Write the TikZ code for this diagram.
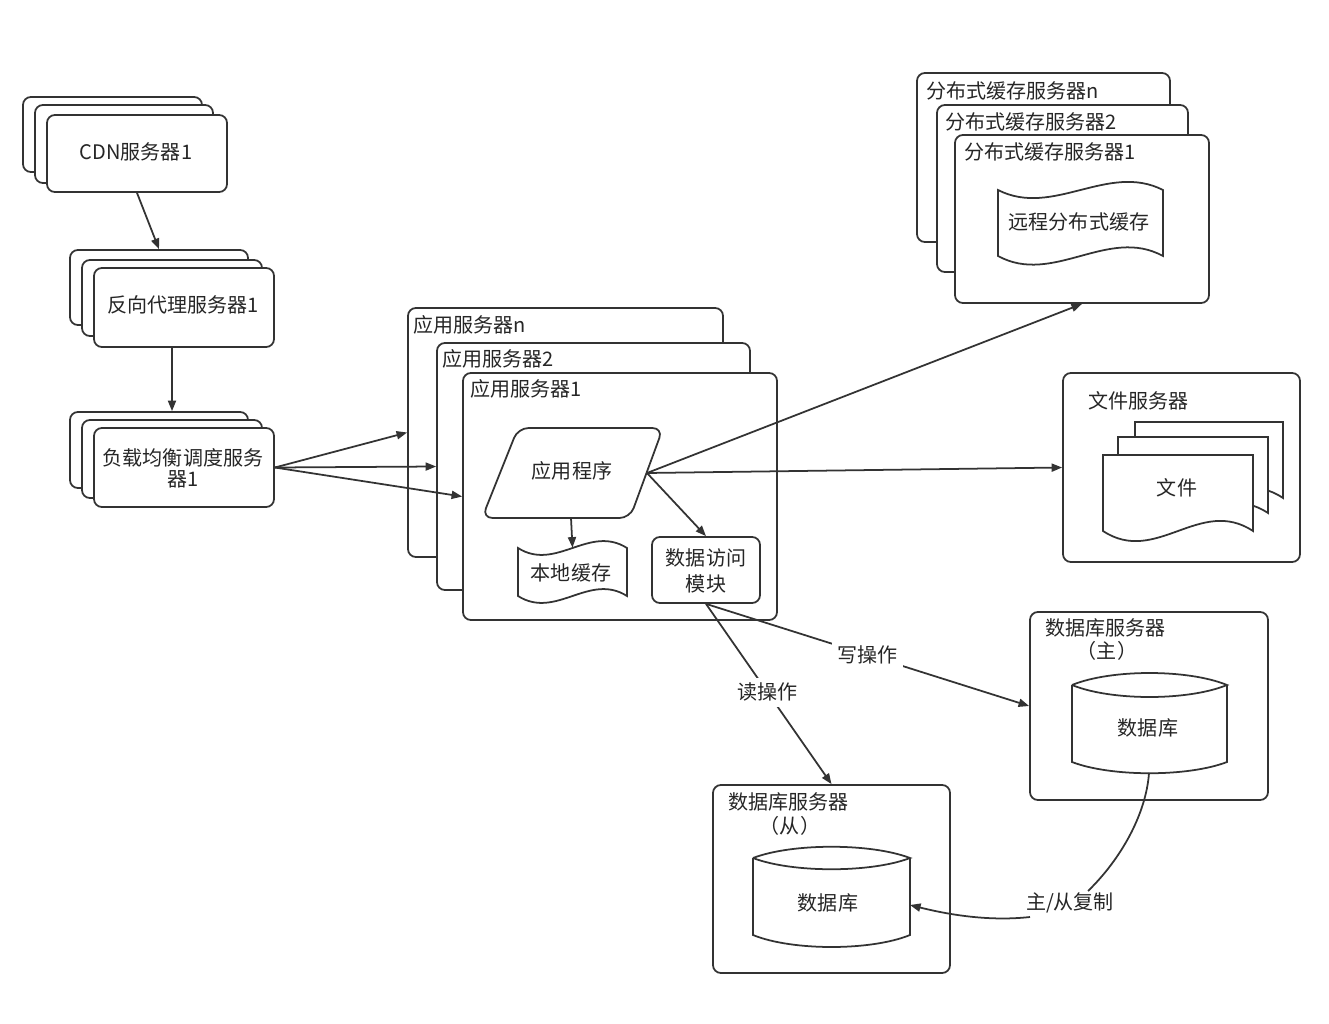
\documentclass[tikz,border=0pt]{standalone}
\usepackage{fontspec}
\setmainfont{Noto Sans CJK SC}
\usetikzlibrary{arrows.meta,fit}
\begin{document}
\begin{tikzpicture}[x=0.02cm,y=-0.02cm,
  every node/.style={font=\fontsize{11.4}{13}\selectfont, text=black!85, inner sep=0pt},
  ln/.style={line width=1pt, draw=black!80},
  card/.style={ln, rounded corners=4.5pt, fill=white},
  arr/.style={ln, -{Triangle[length=6pt,width=4.6pt]}},
  lbl/.style={fill=white, inner sep=3pt}
]
\fill[white] (0,0) rectangle (1329,1024);
\useasboundingbox (0,0) rectangle (1329,1024);

% ---------- CDN ----------
\node[card, fit={(23,97) (202,172)}] (cdn3) {};
\node[card, fit={(35,105) (213,183)}] (cdn2) {};
\node[card, fit={(47,115) (227,192)}] (cdn) {};
\node (cdnt) at (136,152) {CDN服务器1};

% ---------- reverse proxy ----------
\node[card, fit={(70,250) (248,325)}] (proxy3) {};
\node[card, fit={(82,260) (262,336)}] (proxy2) {};
\node[card, fit={(94,268) (274,347)}] (proxy) {};
\node (proxyt) at (183,305) {反向代理服务器1};

% ---------- load balancer ----------
\node[card, fit={(70,412) (248,488)}] (lb3) {};
\node[card, fit={(82,420) (262,498)}] (lb2) {};
\node[card, fit={(94,428) (274,507)}] (lb) {};
\node[align=center, font=\fontsize{11.4}{12}\selectfont] (lbt) at (183,468) {负载均衡调度服务\\器1};

\draw[arr] (cdn.south) -- (proxy3.north);
\draw[arr] ([xshift=-0.24cm]proxy.south) -- ([xshift=-0.24cm]proxy.south |- lb3.north);

% ---------- application servers ----------
\node[card, fit={(408,308) (723,557)}] (appn) {};
\node[anchor=west] (appnl) at (413,325) {应用服务器n};
\node[card, fit={(437,343) (750,590)}] (app2) {};
\node[anchor=west] (app2l) at (442,359) {应用服务器2};
\node[card, fit={(463,373) (777,620)}] (app1) {};
\node[anchor=west] (app1l) at (470,389) {应用服务器1};

\draw[arr] (lb.east) -- (appn.west);
\draw[arr] (lb.east) -- (app2.west);
\draw[arr] (lb.east) -- (app1.west);

% application program (parallelogram)
\draw[ln, rounded corners=6pt, fill=white] (518,428) -- (663,428) -- (630,518) -- (482,518) -- cycle;
\node (prog) at (572,471) {应用程序};
\coordinate (progB) at (571,518);
\coordinate (progR) at (647,473);

% local cache (tape)
\draw[ln, fill=white] (518,548) .. controls (556,572) and (589,524) .. (627,548) -- (627,596) .. controls (589,572) and (556,620) .. (518,596) -- cycle;
\node[fit={(518,548) (627,596)}] (lcache) {};
\node (lcachet) at (571,573) {本地缓存};

% data access module
\node[card, fit={(652,537) (760,603)}] (dam) {};
\node[align=center, font=\fontsize{11.4}{15}\selectfont] (damt) at (706,571) {数据访问\\模块};

\draw[arr] (progB) -- (lcache.north);
\draw[arr] (progR) -- (dam.north);

% ---------- distributed cache ----------
\node[card, fit={(917,73) (1170,242)}] (dcn) {};
\node[anchor=west] (dcnl) at (926,91) {分布式缓存服务器n};
\node[card, fit={(937,105) (1188,272)}] (dc2) {};
\node[anchor=west] (dc2l) at (945,122) {分布式缓存服务器2};
\node[card, fit={(955,135) (1209,303)}] (dc1) {};
\node[anchor=west] (dc1l) at (964,152) {分布式缓存服务器1};
\draw[ln, fill=white] (998,190) .. controls (1053,218) and (1108,162) .. (1163,190) -- (1163,256) .. controls (1108,226) and (1053,286) .. (998,256) -- cycle;
\node (rcache) at (1079,222) {远程分布式缓存};

% ---------- file server ----------
\node[card, fit={(1063,373) (1300,562)}] (fs) {};
\node[anchor=west] (fsl) at (1088,401) {文件服务器};
\draw[ln, fill=white] (1135,422) -- (1283,422) -- (1283,498) .. controls (1231,463) and (1187,533) .. (1135,498) -- cycle;
\draw[ln, fill=white] (1118,437) -- (1268,437) -- (1268,513) .. controls (1215,478) and (1170,548) .. (1118,513) -- cycle;
\draw[ln, fill=white] (1103,455) -- (1253,455) -- (1253,531) .. controls (1200,496) and (1156,566) .. (1103,531) -- cycle;
\node (file) at (1177,488) {文件};

\draw[arr] (progR) -- (dc1.south);
\draw[arr] (progR) -- (fs.west);

% ---------- database master ----------
\node[card, fit={(1030,612) (1268,800)}] (mdbs) {};
\node[anchor=west] (mdbl) at (1045,628) {数据库服务器};
\node (mdbl2) at (1107,651) {（主）};
\draw[ln] (1072,685) -- (1072,762) .. controls (1111,777) and (1188,777) .. (1227,762) -- (1227,685);
\draw[ln] (1072,685) .. controls (1111,669) and (1188,669) .. (1227,685) .. controls (1188,701) and (1111,701) .. (1072,685);
\node (mdb) at (1148,728) {数据库};
\coordinate (mdbB) at (1149,773);

% ---------- database slave ----------
\node[card, fit={(713,785) (950,973)}] (sdbs) {};
\node[anchor=west] (sdbl) at (728,802) {数据库服务器};
\node (sdbl2) at (790,826) {（从）};
\draw[ln] (753,858) -- (753,935) .. controls (792,951) and (871,951) .. (910,935) -- (910,858);
\draw[ln] (753,858) .. controls (792,843) and (871,843) .. (910,858) .. controls (871,873) and (792,873) .. (753,858);
\node (sdb) at (828,903) {数据库};
\coordinate (sdbE) at (910,905);

% write / read
\draw[arr] (dam.south) -- node[lbl, pos=0.5] (wlab) {写操作} (mdbs.west);
\draw[arr] (dam.south) -- node[lbl, pos=0.49] (rlab) {读操作} (sdbs.north);

% replication
\node (rep) at (1070,903) {主/从复制};
\coordinate (repin) at (1088,891);
\coordinate (repout) at (1030,917);
\draw[ln] (mdbB) .. controls (1146,815) and (1120,860) .. (repin);
\draw[arr] (repout) .. controls (985,922) and (942,913) .. (sdbE);

\end{tikzpicture}
\end{document}
